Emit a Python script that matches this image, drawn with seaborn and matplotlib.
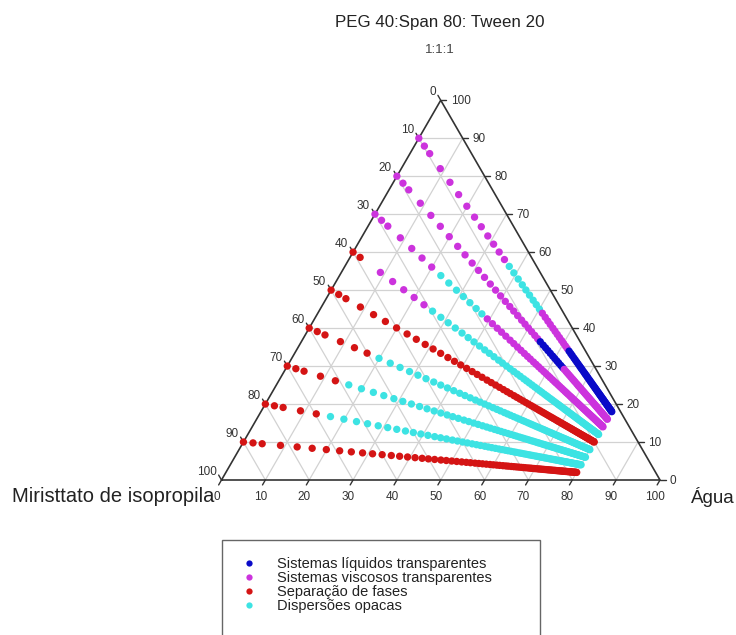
import numpy as np
import pandas as pd
import matplotlib
matplotlib.use("Agg")
import matplotlib.pyplot as plt
import seaborn as sns
from matplotlib.lines import Line2D
from matplotlib.patches import Rectangle

# ---------------- data ----------------
# water content (%) of the titration points along every dilution line
agua = [0.0, 2.3, 4.5, 8.9, 12.9, 16.5, 19.9, 23.1, 25.9, 28.6, 31.0, 33.3, 35.5,
        37.5, 39.4, 41.2, 42.9, 44.4, 45.9, 47.4, 48.7, 50.0, 51.2, 52.4, 53.5,
        54.5, 55.6, 56.5, 57.4, 58.3, 59.2, 60.0, 60.8, 61.5, 62.3, 63.0, 63.6,
        64.3, 64.9, 65.5, 66.1, 66.7, 67.2, 67.7, 68.3, 68.8, 69.2, 69.7, 70.1,
        70.6, 71.0, 71.4, 71.8, 72.2, 72.6, 73.0, 73.3, 73.7, 74.0, 74.4, 74.7,
        75.0, 75.3, 75.6, 75.9, 76.2, 76.5, 76.7, 77.0, 77.3, 77.5, 77.8, 78.0,
        78.3, 78.5, 78.7, 78.9, 79.2, 79.4, 79.6, 79.8, 80.0]

# surfactant blend (PEG 40:Span 80:Tween 20, 1:1:1) % at the start of each line
tensoativo_inicial = [90, 80, 70, 60, 50, 40, 30, 20, 10]

# phase segments of each line: (code, last water % of the segment)
fases = [
    [("V", 35.5), ("D", 50.0), ("V", 61.5), ("L", 80.0)],
    [("V", 53.5), ("L", 63.0), ("V", 80.0)],
    [("V", 19.9), ("D", 37.5), ("V", 80.0)],
    [("S", 2.3), ("-", 4.5), ("V", 23.1), ("D", 80.0)],
    [("S", 80.0)],
    [("S", 16.5), ("D", 80.0)],
    [("S", 12.9), ("D", 80.0)],
    [("S", 12.9), ("D", 80.0)],
    [("S", 80.0)],
]

codigos = ["L", "V", "S", "D"]
rotulos = ["Sistemas líquidos transparentes", "Sistemas viscosos transparentes",
           "Separação de fases", "Dispersões opacas"]
cores = ["#0a0ac8", "#cc33dd", "#d41414", "#3de3e3"]

ticks = [0, 10, 20, 30, 40, 50, 60, 70, 80, 90, 100]

# ---------------- build table ----------------
nome = dict(zip(codigos, rotulos))
rows = []
for s0, segs in zip(tensoativo_inicial, fases):
    for w in agua:
        cls = next(c for c, wmax in segs if w <= wmax + 1e-9)
        if cls == "-":
            continue
        s = s0 * (100 - w) / 100.0
        o = (100 - s0) * (100 - w) / 100.0
        rows.append(dict(agua=w, tensoativo=s, oleo=o, classe=nome[cls]))
df = pd.DataFrame(rows)
H = np.sqrt(3) / 2
df["x"] = df["agua"] + df["tensoativo"] / 2
df["y"] = df["tensoativo"] * H

# ---------------- figure ----------------
sns.set_style("white")
plt.rcParams["font.family"] = ["Liberation Sans", "DejaVu Sans"]

W, Hpx = 736, 635
fig = plt.figure(figsize=(W / 100, Hpx / 100), dpi=100)
x0, x1, yb = 221.5, 660.0, 480.0
ax = fig.add_axes([x0 / W, (Hpx - yb) / Hpx, (x1 - x0) / W, (x1 - x0) * H / Hpx])
ax.set_xlim(0, 100)
ax.set_ylim(0, 100 * H)
ax.axis("off")

grid_c = "#d2d2d2"
for v in range(10, 100, 10):
    # constant surfactant (horizontal)
    ax.plot([v / 2, 100 - v / 2], [v * H, v * H], color=grid_c, lw=0.9, zorder=0)
    # constant water
    ax.plot([v, v + (100 - v) / 2], [0, (100 - v) * H], color=grid_c, lw=0.9, zorder=0)
    # constant oil
    ax.plot([(100 - v) / 2, 100 - v], [(100 - v) * H, 0], color=grid_c, lw=0.9, zorder=0)

edge_c = "#333333"
ax.plot([0, 100, 50, 0], [0, 0, 100 * H, 0], color=edge_c, lw=1.2, zorder=1,
        solid_joinstyle="miter", clip_on=False)

L = 1.3
tick_kw = dict(color=edge_c, lw=1.0, clip_on=False, zorder=1)
lab_kw = dict(fontsize=8.5, color="#333333", textcoords="offset pixels", annotation_clip=False)
for v in ticks:
    # bottom: water
    ax.plot([v, v - 0.5 * L], [0, -H * L], **tick_kw)
    ax.annotate(str(v), (v, 0), xytext=(-5, -17), ha="center", va="center", **lab_kw)
    # right: surfactant
    xr, yr = 100 - v / 2, v * H
    ax.plot([xr, xr + L], [yr, yr], **tick_kw)
    ax.annotate(str(v), (xr, yr), xytext=(10, -1), ha="left", va="center", **lab_kw)
    # left: oil
    xl, yl = (100 - v) / 2, (100 - v) * H
    ax.plot([xl, xl - 0.5 * L], [yl, yl + H * L], **tick_kw)
    ax.annotate(str(v), (xl, yl), xytext=(-5, 8), ha="right", va="center", **lab_kw)

sns.scatterplot(data=df, x="x", y="y", hue="classe", hue_order=rotulos,
                palette=cores, s=28, linewidth=0, edgecolor="none",
                legend=False, ax=ax, zorder=3, clip_on=False)

# titles and component names
fig.text(440 / W, 1 - 22 / Hpx, "PEG 40:Span 80: Tween 20", ha="center", va="center",
         fontsize=12.2, color="#222222")
fig.text(440 / W, 1 - 50 / Hpx, "1:1:1", ha="center", va="center",
         fontsize=9.5, color="#444444")
fig.text(214 / W, 1 - 497 / Hpx, "Miristtato de isopropila", ha="right", va="center",
         fontsize=14.5, color="#222222")
fig.text(691 / W, 1 - 497 / Hpx, "Água", ha="left", va="center",
         fontsize=13.5, color="#222222")

# legend
handles = [Line2D([], [], marker="o", ls="", color=c, markersize=4.5, markeredgewidth=0)
           for c in cores]
leg = fig.legend(handles, rotulos, loc="upper left",
                 bbox_to_anchor=(237 / W, 1 - 557 / Hpx), frameon=False,
                 fontsize=10.5, labelspacing=0.0, handletextpad=1.15,
                 handlelength=1.6, borderpad=0, borderaxespad=0)
for t in leg.get_texts():
    t.set_color("#222222")
fig.patches.append(Rectangle((222 / W, -0.05), (540 - 222) / W, (0.05 + 1 - 540 / Hpx),
                             transform=fig.transFigure, fill=False,
                             edgecolor="#666666", lw=1.0))

fig.savefig("out.png", dpi=100)
